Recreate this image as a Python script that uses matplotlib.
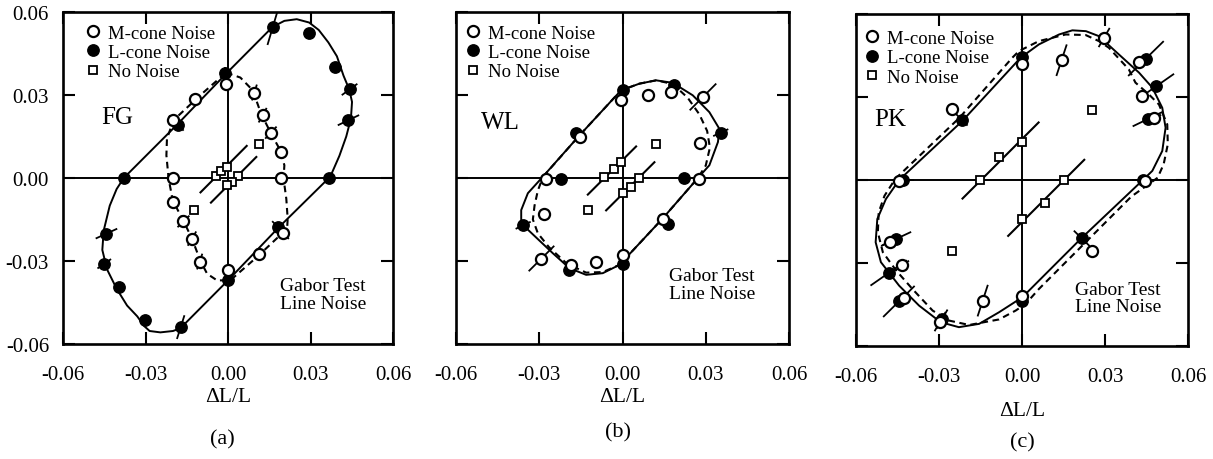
import numpy as np
import matplotlib
matplotlib.use('Agg')
import matplotlib.pyplot as plt

plt.rcParams['font.family'] = ['Liberation Serif', 'DejaVu Serif']

# ---------------- panel (a) : observer FG ----------------
fg_m_x = [-0.0007, -0.0121, -0.0201, 0.0096, 0.0126, 0.0156, 0.0194, 0.0194,
          -0.0201, -0.0201, -0.0162, -0.0131, -0.0103, 0.0000, 0.0111, 0.0200]
fg_m_y = [0.0341, 0.0285, 0.0211, 0.0309, 0.0227, 0.0164, 0.0094, 0.0000,
          0.0000, -0.0087, -0.0157, -0.0219, -0.0302, -0.0334, -0.0274, -0.0199]
fg_m_err = [0.0015, 0.002, 0.002, 0.003, 0.003, 0.003, 0.0015, 0.0015,
            0.0015, 0.0015, 0.003, 0.003, 0.003, 0.0015, 0.002, 0.003]
fg_l_x = [0.0163, 0.0294, 0.0388, 0.0442, 0.0438, 0.0369, -0.0010, -0.0182,
          -0.0379, -0.0442, -0.0450, -0.0396, -0.0302, -0.0172, 0.0000, 0.0182]
fg_l_y = [0.0546, 0.0525, 0.0402, 0.0320, 0.0209, 0.0000, 0.0381, 0.0193,
          0.0000, -0.0201, -0.0310, -0.0394, -0.0515, -0.0539, -0.0370, -0.0177]
fg_l_err = [0.0068, 0.002, 0.002, 0.0035, 0.0043, 0.0015, 0.002, 0.003,
            0.0015, 0.0043, 0.003, 0.002, 0.002, 0.0045, 0.002, 0.003]
fg_n_x = [-0.0042, -0.0024, -0.0004, 0.0035, 0.0015, -0.0004, 0.0113, -0.0125]
fg_n_y = [0.0006, 0.0025, 0.0040, 0.0006, -0.0014, -0.0024, 0.0124, -0.0117]
fg_line_c = [0.0048, -0.0027]
fg_line_x0 = [-0.0100, -0.0062]
fg_line_x1 = [0.0068, 0.0103]
fg_solid_x = [-0.0379, -0.0185, -0.0007, 0.0162, 0.0205, 0.0250, 0.0295, 0.0330,
              0.0365, 0.0396, 0.0420, 0.0441, 0.0451, 0.0447, 0.0430, 0.0405,
              0.0372, 0.0182, 0.0000, -0.0173, -0.0200, -0.0246, -0.0285, -0.0305,
              -0.0330, -0.0367, -0.0405, -0.0440, -0.0457, -0.0452, -0.0430, -0.0405]
fg_solid_y = [0.0000, 0.0193, 0.0377, 0.0546, 0.0568, 0.0574, 0.0562, 0.0535,
              0.0490, 0.0440, 0.0370, 0.0320, 0.0275, 0.0215, 0.0150, 0.0080,
              0.0005, -0.0181, -0.0370, -0.0543, -0.0553, -0.0558, -0.0553, -0.0535,
              -0.0500, -0.0461, -0.0400, -0.0330, -0.0260, -0.0190, -0.0100, -0.0040]
fg_dash_x = [-0.0007, 0.0045, 0.0090, 0.0120, 0.0154, 0.0190, 0.0205, 0.0202,
             0.0212, 0.0217, 0.0215, 0.0105, 0.0008, -0.0040, -0.0076, -0.0101,
             -0.0131, -0.0161, -0.0201, -0.0216, -0.0224, -0.0222, -0.0198, -0.0101]
fg_dash_y = [0.0381, 0.0363, 0.0317, 0.0233, 0.0166, 0.0100, 0.0046, -0.0002,
             -0.0075, -0.0147, -0.0183, -0.0286, -0.0370, -0.0370, -0.0346, -0.0298,
             -0.0219, -0.0157, -0.0081, -0.0002, 0.0082, 0.0142, 0.0209, 0.0299]

# ---------------- panel (b) : observer WL ----------------
wl_m_x = [-0.0004, 0.0092, 0.0176, 0.0290, 0.0278, 0.0275, 0.0146, 0.0000,
          -0.0096, -0.0184, -0.0292, -0.0282, -0.0277, -0.0154]
wl_m_y = [0.0281, 0.0299, 0.0311, 0.0293, 0.0128, -0.0002, -0.0149, -0.0279,
          -0.0303, -0.0315, -0.0291, -0.0129, -0.0002, 0.0148]
wl_m_err = [0.0015, 0.002, 0.002, 0.0068, 0.0, 0.0015, 0.002, 0.0015,
            0.002, 0.002, 0.0065, 0.0, 0.0015, 0.002]
wl_l_x = [0.0000, 0.0186, 0.0354, 0.0221, -0.0222, -0.0358, -0.0192, 0.0000,
          -0.0166, 0.0164]
wl_l_y = [0.0317, 0.0335, 0.0164, 0.0001, -0.0002, -0.0171, -0.0331, -0.0312,
          0.0164, -0.0165]
wl_l_err = [0.0015, 0.0015, 0.003, 0.0015, 0.0015, 0.003, 0.0015, 0.0015,
            0.0015, 0.0015]
wl_n_x = [-0.0065, -0.0032, -0.0005, 0.0001, 0.0031, 0.0061, 0.0119, -0.0125]
wl_n_y = [0.0004, 0.0031, 0.0058, -0.0055, -0.0031, -0.0001, 0.0124, -0.0116]
wl_line_c = [0.0065, -0.0058]
wl_line_x0 = [-0.0125, -0.0059]
wl_line_x1 = [0.0049, 0.0115]
wl_solid_x = [-0.0293, -0.0155, -0.0005, 0.0061, 0.0121, 0.0181, 0.0253, 0.0313,
              0.0349, 0.0344, 0.0313, 0.0271, 0.0145, -0.0011, -0.0071, -0.0131,
              -0.0191, -0.0251, -0.0365, -0.0365, -0.0341]
wl_solid_y = [-0.0002, 0.0154, 0.0317, 0.0341, 0.0353, 0.0344, 0.0299, 0.0238,
              0.0178, 0.0130, 0.0046, -0.0001, -0.0146, -0.0314, -0.0344, -0.0350,
              -0.0326, -0.0272, -0.0164, -0.0116, -0.0055]
wl_dash_x = [-0.0286, -0.0155, -0.0005, 0.0061, 0.0121, 0.0181, 0.0235, 0.0277,
             0.0305, 0.0315, 0.0300, 0.0271, 0.0145, -0.0011, -0.0071, -0.0131,
             -0.0200, -0.0265, -0.0305, -0.0323, -0.0317, -0.0305]
wl_dash_y = [0.0005, 0.0154, 0.0317, 0.0341, 0.0353, 0.0340, 0.0290, 0.0230,
             0.0170, 0.0110, 0.0045, -0.0001, -0.0146, -0.0314, -0.0340, -0.0342,
             -0.0310, -0.0250, -0.0200, -0.0150, -0.0100, -0.0045]

# ---------------- panel (c) : observer PK ----------------
pk_m_x = [0.0000, 0.0143, 0.0297, 0.0424, 0.0433, 0.0476, 0.0445, 0.0253,
          0.0000, -0.0142, -0.0296, -0.0427, -0.0433, -0.0477, -0.0445, -0.0254]
pk_m_y = [0.0419, 0.0433, 0.0515, 0.0425, 0.0305, 0.0223, -0.0002, -0.0255,
          -0.0421, -0.0436, -0.0512, -0.0427, -0.0309, -0.0223, -0.0002, 0.0256]
pk_m_err = [0.002, 0.006, 0.004, 0.002, 0.002, 0.003, 0.002, 0.0,
            0.002, 0.006, 0.004, 0.002, 0.003, 0.003, 0.002, 0.0]
pk_l_x = [0.0000, 0.0448, 0.0484, 0.0454, 0.0436, 0.0216, 0.0000, -0.0289,
          -0.0445, -0.0482, -0.0455, -0.0431, -0.0218]
pk_l_y = [0.0443, 0.0439, 0.0338, 0.0220, 0.0000, -0.0211, -0.0436, -0.0503,
          -0.0439, -0.0336, -0.0213, 0.0000, 0.0218]
pk_l_err = [0.003, 0.009, 0.008, 0.006, 0.004, 0.004, 0.003, 0.004,
            0.008, 0.008, 0.006, 0.004, 0.003]
pk_n_x = [0.0000, -0.0082, -0.0152, 0.0153, 0.0083, 0.0000, 0.0253, -0.0254]
pk_n_y = [0.0138, 0.0082, 0.0000, 0.0000, -0.0083, -0.0141, 0.0253, -0.0255]
pk_line_c = [0.0148, -0.0152]
pk_line_x0 = [-0.0215, -0.0050]
pk_line_x1 = [0.0060, 0.0225]
pk_solid_x = [-0.0444, -0.0216, -0.0005, 0.0061, 0.0134, 0.0182, 0.0231, 0.0278,
              0.0350, 0.0423, 0.0471, 0.0507, 0.0519, 0.0507, 0.0471, 0.0435,
              0.0212, 0.0001, -0.0083, -0.0155, -0.0228, -0.0294, -0.0372, -0.0444,
              -0.0510, -0.0529, -0.0523, -0.0492]
pk_solid_y = [0.0000, 0.0213, 0.0442, 0.0490, 0.0526, 0.0541, 0.0538, 0.0520,
              0.0454, 0.0388, 0.0334, 0.0261, 0.0189, 0.0105, 0.0033, -0.0002,
              -0.0213, -0.0424, -0.0478, -0.0520, -0.0532, -0.0514, -0.0454, -0.0382,
              -0.0297, -0.0225, -0.0141, -0.0069]
pk_dash_x = [-0.0458, -0.0226, -0.0035, -0.0011, 0.0061, 0.0158, 0.0230, 0.0278,
             0.0314, 0.0386, 0.0410, 0.0459, 0.0495, 0.0525, 0.0527, 0.0512,
             0.0490, 0.0395, 0.0225, 0.0061, 0.0013, -0.0023, -0.0083, -0.0191,
             -0.0264, -0.0323, -0.0396, -0.0455, -0.0503, -0.0521, -0.0518, -0.0497]
pk_dash_y = [0.0004, 0.0225, 0.0442, 0.0466, 0.0502, 0.0526, 0.0524, 0.0502,
             0.0478, 0.0400, 0.0352, 0.0309, 0.0273, 0.0201, 0.0129, 0.0057,
             0.0008, -0.0060, -0.0230, -0.0394, -0.0448, -0.0472, -0.0504, -0.0524,
             -0.0508, -0.0472, -0.0394, -0.0327, -0.0261, -0.0189, -0.0117, -0.0057]

ticks = [-0.06, -0.03, 0.00, 0.03, 0.06]
tick_labels = ['-0.06', '-0.03', '0.00', '0.03', '0.06']


def radial_bars(ax, xs, ys, errs):
    # threshold error bars drawn along the direction of the stimulus
    for x, y, e in zip(xs, ys, errs):
        if e <= 0:
            continue
        r = np.hypot(x, y)
        ux, uy = x / r, y / r
        ax.plot([x - e * ux, x + e * ux], [y - e * uy, y + e * uy],
                color='black', lw=1.3, solid_capstyle='butt', zorder=3)


def closed(v):
    return list(v) + [v[0]]


def draw_panel(ax, p):
    ax.set_xlim(-0.06, 0.06)
    ax.set_ylim(-0.06, 0.06)
    ax.axhline(0, color='black', lw=1.4, zorder=1)
    ax.axvline(0, color='black', lw=1.4, zorder=1)

    ax.plot(closed(p['sx']), closed(p['sy']), color='black', lw=1.4,
            solid_joinstyle='round', zorder=2)
    ax.plot(closed(p['dx']), closed(p['dy']), color='black', lw=1.5,
            linestyle=(0, (3.2, 2.2)), zorder=2)

    for c, x0, x1 in zip(p['lc'], p['lx0'], p['lx1']):
        ax.plot([x0, x1], [x0 + c, x1 + c], color='black', lw=1.5, zorder=2)

    radial_bars(ax, p['lx'], p['ly'], p['lerr'])
    radial_bars(ax, p['mx'], p['my'], p['merr'])

    ax.plot(p['mx'], p['my'], 'o', ms=8, mfc='white', mec='black', mew=1.6,
            label='M-cone Noise', zorder=5)
    ax.plot(p['lx'], p['ly'], 'o', ms=8.2, mfc='black', mec='black', mew=1.0,
            label='L-cone Noise', zorder=4)
    ax.plot(p['nx'], p['ny'], 's', ms=5.4, mfc='white', mec='black', mew=1.3,
            label='No Noise', zorder=5)

    ax.legend(loc='upper left', bbox_to_anchor=p['leg'], frameon=False,
              fontsize=13.5, handlelength=1.0, handletextpad=0.3,
              labelspacing=0.12, borderaxespad=0.0, borderpad=0.4)

    ax.set_xticks(ticks)
    ax.set_xticklabels(tick_labels)
    ax.set_yticks(ticks)
    ax.set_yticklabels(tick_labels)
    ax.tick_params(direction='in', length=8.5, width=1.5, top=True, right=True,
                   labelsize=15)
    ax.tick_params(axis='x', pad=15)
    ax.tick_params(axis='y', pad=10, labelleft=p['ylab'])
    for s in ax.spines.values():
        s.set_linewidth(1.9)

    ax.set_xlabel('\u0394L/L', fontsize=15.5, labelpad=p['xlpad'])
    ax.text(p['name_pos'][0], p['name_pos'][1], p['name'], transform=ax.transAxes,
            fontsize=18, ha='center', va='center')
    ax.text(p['gabor_pos'][0], p['gabor_pos'][1], 'Gabor Test\nLine Noise',
            transform=ax.transAxes, fontsize=14, ha='center', va='center',
            linespacing=1.05)
    ax.text(0.5 + p['cap_dx'], p['cap_y'], p['cap'], transform=ax.transAxes,
            fontsize=16, ha='center', va='center')


panels = [
    dict(mx=fg_m_x, my=fg_m_y, merr=fg_m_err, lx=fg_l_x, ly=fg_l_y, lerr=fg_l_err,
         nx=fg_n_x, ny=fg_n_y, lc=fg_line_c, lx0=fg_line_x0, lx1=fg_line_x1,
         sx=fg_solid_x, sy=fg_solid_y, dx=fg_dash_x, dy=fg_dash_y,
         name='FG', cap='(a)'),
    dict(mx=wl_m_x, my=wl_m_y, merr=wl_m_err, lx=wl_l_x, ly=wl_l_y, lerr=wl_l_err,
         nx=wl_n_x, ny=wl_n_y, lc=wl_line_c, lx0=wl_line_x0, lx1=wl_line_x1,
         sx=wl_solid_x, sy=wl_solid_y, dx=wl_dash_x, dy=wl_dash_y,
         name='WL', cap='(b)'),
    dict(mx=pk_m_x, my=pk_m_y, merr=pk_m_err, lx=pk_l_x, ly=pk_l_y, lerr=pk_l_err,
         nx=pk_n_x, ny=pk_n_y, lc=pk_line_c, lx0=pk_line_x0, lx1=pk_line_x1,
         sx=pk_solid_x, sy=pk_solid_y, dx=pk_dash_x, dy=pk_dash_y,
         name='PK', cap='(c)'),
]

# layout (pixel boxes of the original figure)
W, H = 1213.0, 460.0
boxes = [(63, 13, 330, 332), (456, 13, 333, 332), (856, 15, 332, 332)]
layout = [
    dict(leg=(0.040, 0.985), ylab=True, xlpad=2, name_pos=(0.163, 0.683),
         gabor_pos=(0.788, 0.150), cap_dx=-0.018, cap_y=-0.286),
    dict(leg=(0.000, 0.985), ylab=False, xlpad=2, name_pos=(0.132, 0.668),
         gabor_pos=(0.768, 0.179), cap_dx=-0.015, cap_y=-0.265),
    dict(leg=(-0.002, 0.975), ylab=False, xlpad=11, name_pos=(0.104, 0.684),
         gabor_pos=(0.790, 0.145), cap_dx=0.0, cap_y=-0.289),
]

fig = plt.figure(figsize=(W / 100, H / 100), dpi=100)
for p, lay, (x, y, w, h) in zip(panels, layout, boxes):
    p.update(lay)
    ax = fig.add_axes([x / W, 1 - (y + h) / H, w / W, h / H])
    draw_panel(ax, p)

fig.savefig('out.png', dpi=100)
